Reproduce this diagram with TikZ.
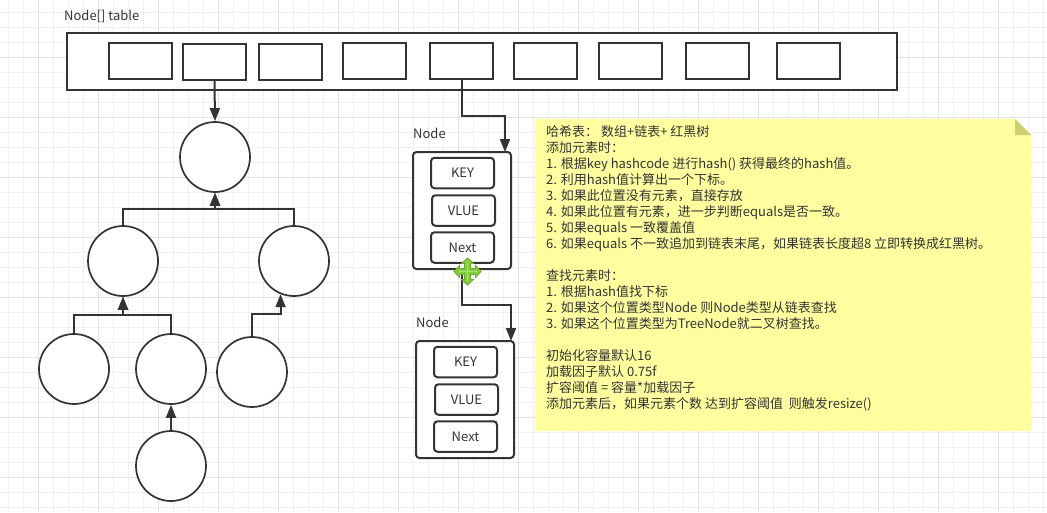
\documentclass[tikz,border=0pt]{standalone}
\usepackage{fontspec}
\setmainfont{Noto Sans CJK SC}
\usetikzlibrary{arrows.meta}

\begin{document}
\begin{tikzpicture}[
  x=1pt, y=-1pt,
  font=\fontsize{13}{16}\selectfont,
  text=ink,
  slot/.style={draw=ink, line width=2pt, fill=white, minimum width=63pt, minimum height=36pt, inner sep=0pt},
  ball/.style={circle, draw=ink, line width=1.7pt, fill=white, minimum size=70pt, inner sep=0pt},
  bucket/.style={draw=ink, line width=2pt, fill=white, rounded corners=3.5pt, minimum width=98pt, minimum height=117pt, inner sep=0pt},
  field/.style={draw=ink, line width=2pt, fill=white, rounded corners=3.5pt, minimum width=63pt, minimum height=30.5pt, inner sep=0pt},
  tag/.style={anchor=west, inner sep=0pt},
  link/.style={draw=ink, line width=2pt, -{Triangle[length=13pt, width=10pt]}},
]
  \definecolor{ink}{RGB}{51,51,51}
  \definecolor{minorgrid}{RGB}{240,240,240}
  \definecolor{majorgrid}{RGB}{226,226,226}
  \definecolor{notefill}{RGB}{255,255,160}
  \definecolor{notefold}{RGB}{207,207,112}
  \definecolor{movefill}{RGB}{132,205,62}
  \definecolor{moveedge}{RGB}{104,172,44}
  \definecolor{movelight}{RGB}{170,226,110}
  \useasboundingbox (0,0) rectangle (1047,512);
  \fill[white] (0,0) rectangle (1047,512);

  % Paper grid
  \foreach \x in {8,23,...,1043} \draw[minorgrid, line width=1pt] (\x,0) -- (\x,512);
  \foreach \y in {12,27,...,507} \draw[minorgrid, line width=1pt] (0,\y) -- (1047,\y);
  \foreach \x in {38,98,...,1043} \draw[majorgrid, line width=1pt] (\x,0) -- (\x,512);
  \foreach \y in {57,117,...,507} \draw[majorgrid, line width=1pt] (0,\y) -- (1047,\y);

  % Note
  \fill[notefill] (535,119) -- (1015,119) -- (1031,135) -- (1031,431) -- (535,431) -- cycle;
  \fill[notefold] (1015,119) -- (1031,135) -- (1015,135) -- cycle;
  \node[anchor=north west, align=left, inner sep=0pt] (note) at (546,125) {%
    哈希表： 数组+链表+ 红黑树\\
    添加元素时：\\
    1. 根据key hashcode 进行hash() 获得最终的hash值。\\
    2. 利用hash值计算出一个下标。\\
    3. 如果此位置没有元素，直接存放\\
    4. 如果此位置有元素，进一步判断equals是否一致。\\
    5. 如果equals 一致覆盖值\\
    6. 如果equals 不一致追加到链表末尾，如果链表长度超8 立即转换成红黑树。\\
    ~\\
    查找元素时：\\
    1. 根据hash值找下标\\
    2. 如果这个位置类型Node 则Node类型从链表查找\\
    3. 如果这个位置类型为TreeNode就二叉树查找。\\
    ~\\
    初始化容量默认16\\
    加载因子默认 0.75f\\
    扩容阈值 = 容量*加载因子\\
    添加元素后，如果元素个数 达到扩容阈值~ 则触发resize()};

  % Array
  \node[tag] (tablelabel) at (64,16) {Node[] table};
  \node[slot, minimum width=830pt, minimum height=56.5pt] (table) at (482,61.5) {};
  \node[slot] (slot1) at (140.5,61) {};
  \foreach \n/\x in {2/214.5, 3/290.5}
    \node[slot] (slot\n) at (\x,62) {};
  \foreach \n/\x in {4/374.5, 5/461.5, 6/545.5, 7/630.5, 8/717.5, 9/808.5}
    \node[slot] (slot\n) at (\x,61) {};

  % Tree
  \node[ball] (root) at (215,157) {};
  \node[ball] (left) at (123,261) {};
  \node[ball] (right) at (294,261) {};
  \node[ball] (leafa) at (74,369) {};
  \node[ball] (leafb) at (171,369) {};
  \node[ball] (leafc) at (252,372) {};
  \node[ball] (leafd) at (171,466) {};

  % Buckets
  \node[tag] (nodelabela) at (413,133) {Node};
  \node[tag] (nodelabelb) at (416,322) {Node};
  \node[bucket] (bucketa) at (462,210.5) {};
  \node[bucket] (bucketb) at (465,399.5) {};
  \node[field] (keya) at (462.5,173) {KEY};
  \node[field] (vluea) at (463.5,210.5) {VLUE};
  \node[field] (nexta) at (462.5,247.5) {Next};
  \node[field] (keyb) at (465.5,362) {KEY};
  \node[field] (vlueb) at (466.5,399.5) {VLUE};
  \node[field] (nextb) at (465.5,436.5) {Next};

  % Connectors
  \coordinate (ina) at (505,152);
  \coordinate (inb) at (511,341);
  \draw[link] (slot2.south) -- (root.north);
  \draw[link] (left.north) |- (215,209) -- (root.south);
  \draw[link] (right.north) |- (215,209) -- (root.south);
  \draw[link] (leafa.north) |- (123,315) -- (left.south);
  \draw[link] (leafb.north) |- (123,315) -- (left.south);
  \draw[link] (leafc.north) -- ++(0,-22) -| (right.-112);
  \draw[link] (leafd.north) -- (leafb.south);
  \draw[link] (slot5.south) |- (505,116) -- (ina);
  \draw[link] (bucketa.south) |- (511,305) -- (inb);

  % Move cursor
  \begin{scope}[shift={(467.5,271.5)}]
    \draw[fill=movefill, draw=moveedge, line width=0.8pt]
      (-3,-3) -- (-3,-8) -- (-6,-8) -- (0,-13.5) -- (6,-8) -- (3,-8) -- (3,-3)
      -- (8,-3) -- (8,-6) -- (13.5,0) -- (8,6) -- (8,3) -- (3,3)
      -- (3,8) -- (6,8) -- (0,13.5) -- (-6,8) -- (-3,8) -- (-3,3)
      -- (-8,3) -- (-8,6) -- (-13.5,0) -- (-8,-6) -- (-8,-3) -- cycle;
    \draw[movelight, line width=1.4pt] (-9,0) -- (9,0) (0,-9) -- (0,9);
  \end{scope}
\end{tikzpicture}
\end{document}
